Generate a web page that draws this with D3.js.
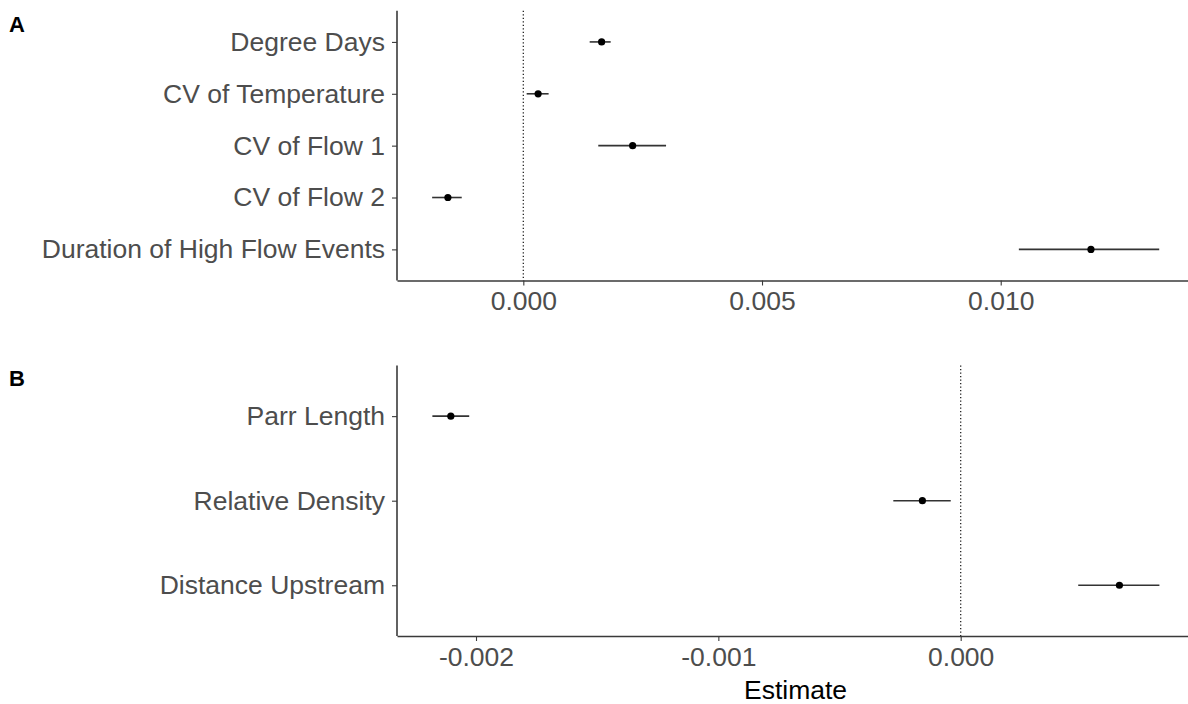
<!DOCTYPE html>
<html>
<head>
<meta charset="utf-8">
<script src="https://cdn.jsdelivr.net/npm/d3@7"></script>
<style>
  body { margin: 0; background: #fff; }
  svg { display: block; font-family: "Liberation Sans", Arial, sans-serif; }
</style>
</head>
<body>
<svg id="chart" width="1188" height="704"></svg>
<script>
// Panel A: hydrological / thermal predictors
const termsA = ["Degree Days", "CV of Temperature", "CV of Flow 1", "CV of Flow 2", "Duration of High Flow Events"];
const estA   = [0.00164, 0.00031, 0.00229, -0.00158, 0.01189];
const lowA   = [0.00139, 0.00007, 0.00157, -0.00191, 0.01038];
const highA  = [0.00183, 0.00053, 0.00299, -0.00129, 0.01332];
const ticksA = [0.000, 0.005, 0.010];

// Panel B: fish / site predictors
const termsB = ["Parr Length", "Relative Density", "Distance Upstream"];
const estB   = [-0.002104, -0.000158, 0.000655];
const lowB   = [-0.00218, -0.000278, 0.000485];
const highB  = [-0.002028, -0.000041, 0.000820];
const ticksB = [-0.002, -0.001, 0.000];

const svg = d3.select("#chart");
const left = 397, right = 1188;
const fontSize = 26.5;
const axisColor = "#3a3a3a";
const textColor = "#4d4d4d";

function panel(opts) {
  const { terms, est, low, high, ticks, domain, top, bottom, tag, tagY } = opts;
  const g = svg.append("g");

  const x = d3.scaleLinear().domain(domain).range([left, right]);
  const y = d3.scalePoint().domain(terms).range([top, bottom]).padding(0.6);

  // reference line at zero
  g.append("line")
    .attr("x1", x(0)).attr("x2", x(0))
    .attr("y1", top).attr("y2", bottom)
    .attr("stroke", "#222").attr("stroke-width", 1.3)
    .attr("stroke-dasharray", "1.3,2.2");

  const rows = terms.map((t, i) => ({ term: t, est: est[i], low: low[i], high: high[i] }));

  // confidence intervals
  g.selectAll("line.ci").data(rows).join("line")
    .attr("class", "ci")
    .attr("x1", d => x(d.low)).attr("x2", d => x(d.high))
    .attr("y1", d => y(d.term)).attr("y2", d => y(d.term))
    .attr("stroke", "#333").attr("stroke-width", 1.6);

  // point estimates
  g.selectAll("circle").data(rows).join("circle")
    .attr("cx", d => x(d.est)).attr("cy", d => y(d.term))
    .attr("r", 3.6).attr("fill", "#000");

  // axes
  const xAxis = d3.axisBottom(x).tickValues(ticks).tickFormat(d3.format(".3f"))
    .tickSize(5).tickPadding(6).tickSizeOuter(0);
  const gx = g.append("g").attr("transform", `translate(0,${bottom})`).call(xAxis);
  gx.select(".domain").attr("stroke", axisColor).attr("stroke-width", 1.6);
  gx.selectAll(".tick line").attr("stroke", axisColor).attr("stroke-width", 1.1);
  gx.selectAll(".tick text").attr("fill", textColor)
    .style("font-size", fontSize + "px").style("font-family", "Liberation Sans, Arial, sans-serif")
    .text(d => d3.format(".3f")(d).replace("−", "-"));

  const yAxis = d3.axisLeft(y).tickSize(5).tickPadding(7).tickSizeOuter(0);
  const gy = g.append("g").attr("transform", `translate(${left},0)`).call(yAxis);
  gy.select(".domain").attr("stroke", axisColor).attr("stroke-width", 1.6)
    .attr("d", `M0,${top}V${bottom}`);
  gy.selectAll(".tick line").attr("stroke", axisColor).attr("stroke-width", 1.1);
  gy.selectAll(".tick text").attr("fill", textColor)
    .style("font-size", fontSize + "px").style("font-family", "Liberation Sans, Arial, sans-serif");

  // panel tag
  svg.append("text").attr("x", 9).attr("y", tagY)
    .attr("font-weight", "bold").attr("font-size", "22px").attr("fill", "#000")
    .text(tag);
}

panel({ terms: termsA, est: estA, low: lowA, high: highA, ticks: ticksA,
        domain: [-0.002646, 0.013923], top: 10.8, bottom: 280.5, tag: "A", tagY: 32 });
panel({ terms: termsB, est: estB, low: lowB, high: highB, ticks: ticksB,
        domain: [-0.002326, 0.000938], top: 365.4, bottom: 636, tag: "B", tagY: 386 });

svg.append("text")
  .attr("x", (left + right) / 2 + 3).attr("y", 699)
  .attr("text-anchor", "middle").attr("font-size", fontSize + "px").attr("fill", "#000")
  .text("Estimate");
</script>
</body>
</html>
